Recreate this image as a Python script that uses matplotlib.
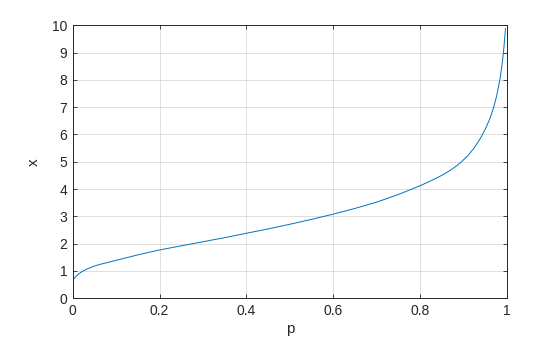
import matplotlib
matplotlib.use('Agg')
import matplotlib.pyplot as plt

# probability values
p_vals = [0.003, 0.006, 0.009, 0.012, 0.016, 0.022, 0.032, 0.04, 0.05, 0.06,
          0.07, 0.085, 0.1, 0.125, 0.15, 0.175, 0.2, 0.25, 0.3, 0.35, 0.4,
          0.45, 0.5, 0.55, 0.6, 0.65, 0.7, 0.75, 0.8, 0.825, 0.85, 0.865,
          0.88, 0.895, 0.91, 0.925, 0.94, 0.95, 0.96, 0.965, 0.97, 0.975,
          0.978, 0.982, 0.985, 0.988, 0.99, 0.992, 0.994, 0.996, 0.997]
# matching x values
x_vals = [0.72, 0.78, 0.83, 0.87, 0.92, 0.985, 1.065, 1.12, 1.18, 1.23,
          1.27, 1.33, 1.39, 1.49, 1.59, 1.68, 1.77, 1.92, 2.07, 2.22, 2.38,
          2.54, 2.71, 2.89, 3.08, 3.29, 3.52, 3.80, 4.12, 4.30, 4.50, 4.64,
          4.80, 4.99, 5.22, 5.51, 5.88, 6.18, 6.54, 6.76, 7.01, 7.31,
          7.52, 7.84, 8.11, 8.43, 8.68, 8.97, 9.31, 9.70, 9.88]

xticks = [0, 0.2, 0.4, 0.6, 0.8, 1]
xtick_labels = ['0', '0.2', '0.4', '0.6', '0.8', '1']
yticks = list(range(0, 11))

plt.rcParams['font.family'] = ['Liberation Sans', 'DejaVu Sans']

fig = plt.figure(figsize=(5.6, 3.37), dpi=100)
ax = fig.add_axes([0.13, 0.115, 0.775, 0.81])

ax.plot(p_vals, x_vals, color=(0, 0.447, 0.741), linewidth=0.7)

ax.set_xlim(0, 1)
ax.set_ylim(0, 10)
ax.set_xticks(xticks)
ax.set_xticklabels(xtick_labels)
ax.set_yticks(yticks)

# grid like the original
ax.grid(True, color='#d9d9d9', linewidth=0.6)
ax.set_axisbelow(True)

ax.tick_params(direction='in', length=3, width=0.6, labelsize=10,
               top=True, right=True, colors='#262626', pad=4)
for s in ax.spines.values():
    s.set_linewidth(0.7)
    s.set_color('#262626')

ax.set_xlabel('p', fontsize=11, color='#262626', labelpad=3)
ax.set_ylabel('x', fontsize=11, color='#262626', labelpad=8)

fig.savefig('out.png', dpi=100)
